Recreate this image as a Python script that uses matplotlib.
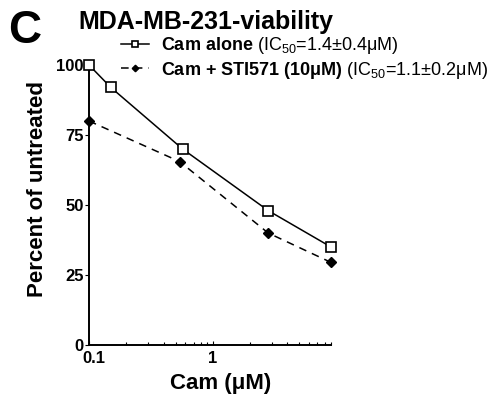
import numpy as np
import matplotlib
matplotlib.use("Agg")
import matplotlib.pyplot as plt
import matplotlib.transforms as mtransforms
from matplotlib.ticker import LogLocator, FixedLocator, NullFormatter

plt.rcParams['font.family'] = ['Liberation Sans', 'DejaVu Sans']
plt.rcParams['mathtext.fontset'] = 'custom'
plt.rcParams['mathtext.rm'] = 'Liberation Sans'
plt.rcParams['mathtext.bf'] = 'Liberation Sans:bold'
plt.rcParams['mathtext.it'] = 'Liberation Sans:italic'

# data
cam_alone_x = [0.1, 0.15, 0.57, 2.8, 9.0]
cam_alone_y = [100, 92, 70, 48, 35]
cam_sti_x = [0.1, 0.54, 2.8, 9.0]
cam_sti_y = [80, 65.5, 40, 29.5]

yticks = [0, 25, 50, 75, 100]
xticks = [0.1, 1]
xtick_labels = ["0.1", "1"]

fig = plt.figure(figsize=(4.93, 4.00), dpi=100)
ax = fig.add_axes([89/493, 55/400, 242/493, 280/400])

ax.plot(cam_alone_x, cam_alone_y, color='black', lw=1.1, marker='s', ms=7,
        mfc='white', mec='black', mew=1.2, clip_on=False, zorder=3,
        label=r'$\bf{Cam\ alone}$ (IC$_{50}$=1.4±0.4μM)')
ax.plot(cam_sti_x, cam_sti_y, color='black', lw=1.1, ls=(0, (5, 4)), marker='D', ms=5.5,
        mfc='black', mec='black', clip_on=False, zorder=3,
        label=r'$\bf{Cam\ {+}\ STI571\ (10μM)}$ (IC$_{50}$=1.1±0.2μM)')

ax.set_xscale('log')
ax.set_xlim(0.1, 9.0)
ax.set_ylim(0, 100)
ax.set_yticks(yticks)
ax.xaxis.set_major_locator(FixedLocator(xticks))
ax.set_xticklabels(xtick_labels)
ax.xaxis.set_minor_locator(LogLocator(base=10, subs=np.arange(2, 10)))
ax.xaxis.set_minor_formatter(NullFormatter())

for s in ['top', 'right']:
    ax.spines[s].set_visible(False)
for s in ['left', 'bottom']:
    ax.spines[s].set_linewidth(1.4)

ax.tick_params(axis='y', direction='out', length=3, width=0.8, pad=1, labelsize=12)
ax.tick_params(axis='x', which='major', direction='in', length=3, width=0.8, pad=4, labelsize=12)
ax.tick_params(axis='x', which='minor', direction='in', length=2, width=0.8)
for lab in ax.get_xticklabels() + ax.get_yticklabels():
    lab.set_fontweight('bold')
# nudge "0.1" right so it clears the "0" on the y axis
first = ax.get_xticklabels()[0]
first.set_transform(first.get_transform() + mtransforms.ScaledTranslation(5/100, 0, fig.dpi_scale_trans))

ax.set_ylabel('Percent of untreated', fontsize=16, fontweight='bold', va='center')
ax.yaxis.set_label_coords((38 - 89)/242, (345 - 189)/280)
ax.set_xlabel('Cam (μM)', fontsize=16, fontweight='bold', va='center')
ax.xaxis.set_label_coords((221 - 89)/242, (345 - 383)/280)

leg = ax.legend(loc='upper left', bbox_to_anchor=(121/493, 1 - 35/400),
                bbox_transform=fig.transFigure, frameon=False, fontsize=13,
                handlelength=1.55, handletextpad=0.65, labelspacing=0.2,
                markerscale=0.6, borderpad=0, borderaxespad=0)

fig.text(78/493, 1 - 29/400, 'MDA-MB-231-viability', fontsize=18, fontweight='bold')
fig.text(8/493, 1 - 43/400, 'C', fontsize=33, fontweight='bold')

fig.savefig('out.png', dpi=100)
